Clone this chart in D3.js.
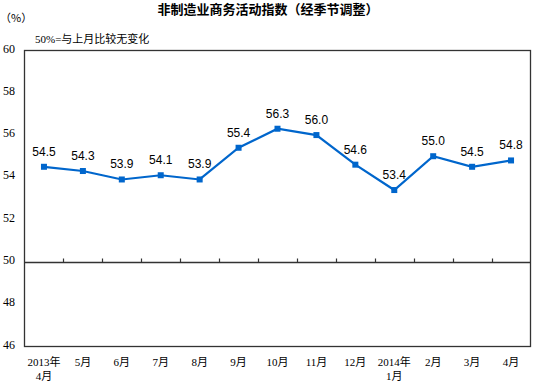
<!DOCTYPE html>
<meta charset="utf-8">
<style>
body { margin: 0; background: #fff; }
svg text { fill: #000; }
.val { font-family: "Liberation Sans", Arial, sans-serif; font-size: 12px; }
.tick { font-family: "Liberation Serif", "Noto Sans CJK SC", serif; font-size: 11px; }
</style>
<body>
<svg width="536" height="385"></svg>
</body>
<script src="https://d3js.org/d3.v7.min.js"></script>
<script>

// data
var months = ["2013年\n4月", "5月", "6月", "7月", "8月", "9月", "10月", "11月", "12月", "2014年\n1月", "2月", "3月", "4月"];
var values = [54.5, 54.3, 53.9, 54.1, 53.9, 55.4, 56.3, 56.0, 54.6, 53.4, 55.0, 54.5, 54.8];
var yTicks = [46, 48, 50, 52, 54, 56, 58, 60];

var svg = d3.select("svg");
var pLeft = 24.5, pRight = 530.5, pTop = 50.5, pBottom = 346.5;

var x = d3.scaleBand().domain(d3.range(months.length)).range([pLeft, pRight]);
var y = d3.scaleLinear().domain([46, 60]).range([pBottom, pTop]);

// frame
svg.append("rect")
    .attr("x", pLeft).attr("y", pTop)
    .attr("width", pRight - pLeft).attr("height", pBottom - pTop)
    .attr("fill", "none").attr("stroke", "#333").attr("stroke-width", 1.3);

// 50 line + category ticks
var y50 = Math.round(y(50)) + 0.5;
svg.append("line")
    .attr("x1", pLeft).attr("x2", pRight)
    .attr("y1", y50).attr("y2", y50)
    .attr("stroke", "#333").attr("stroke-width", 1.3);

svg.append("g").selectAll("line")
    .data(d3.range(1, months.length))
    .enter().append("line")
    .attr("x1", function(i) { return Math.round(x(i)) + 0.5; })
    .attr("x2", function(i) { return Math.round(x(i)) + 0.5; })
    .attr("y1", y50)
    .attr("y2", y50 - 4)
    .attr("stroke", "#333").attr("stroke-width", 1.2);

// y labels
svg.append("g").selectAll("text")
    .data(yTicks)
    .enter().append("text")
    .attr("class", "tick")
    .attr("x", 3)
    .attr("y", function(d) { return y(d) + 2; })
    .style("font-size", "12px")
    .text(function(d) { return d; });

// x labels
var xl = svg.append("g").selectAll("text")
    .data(months)
    .enter().append("text")
    .attr("class", "tick")
    .attr("text-anchor", "middle")
    .attr("x", function(d, i) { return x(i) + x.bandwidth() / 2; })
    .attr("y", 366);
xl.each(function(d) {
    var parts = d.split("\n");
    var t = d3.select(this);
    parts.forEach(function(p, k) {
        t.append("tspan")
            .attr("x", t.attr("x"))
            .attr("dy", k == 0 ? 0 : 14)
            .text(p);
    });
});

// series
var cx = function(d, i) { return x(i) + x.bandwidth() / 2; };
var line = d3.line().x(cx).y(function(d) { return y(d); });

svg.append("path")
    .datum(values)
    .attr("d", line)
    .attr("fill", "none")
    .attr("stroke", "#0066CC")
    .attr("stroke-width", 2.2);

svg.append("g").selectAll("rect")
    .data(values)
    .enter().append("rect")
    .attr("x", function(d, i) { return cx(d, i) - 3; })
    .attr("y", function(d) { return y(d) - 3; })
    .attr("width", 6).attr("height", 6)
    .attr("fill", "#0066CC");

svg.append("g").selectAll("text")
    .data(values)
    .enter().append("text")
    .attr("class", "val")
    .attr("text-anchor", "middle")
    .attr("x", cx)
    .attr("y", function(d) { return y(d) - 11; })
    .text(function(d) { return d.toFixed(1); });

// titles
svg.append("text")
    .attr("x", 268).attr("y", 14)
    .attr("text-anchor", "middle")
    .style("font-family", "'Noto Sans CJK SC', sans-serif")
    .style("font-size", "13px")
    .style("font-weight", "bold")
    .text("非制造业商务活动指数（经季节调整）");

svg.append("text")
    .attr("x", 0).attr("y", 22)
    .style("font-family", "'Noto Sans CJK SC', sans-serif")
    .style("font-size", "11px")
    .text("（%）");

svg.append("text")
    .attr("x", 35).attr("y", 43)
    .style("font-family", "'Liberation Serif', 'Noto Sans CJK SC', serif")
    .style("font-size", "11px")
    .text("50%=与上月比较无变化");

</script>
